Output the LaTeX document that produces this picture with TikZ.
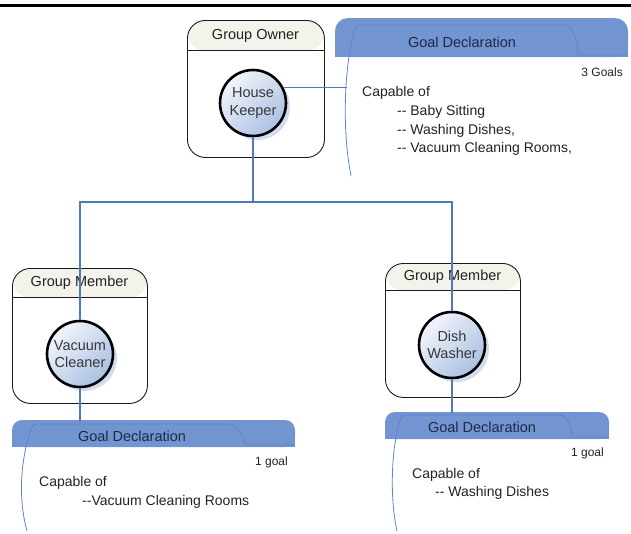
\documentclass[tikz,border=0pt]{standalone}
\usepackage{fontspec}
\setmainfont{Liberation Sans}
\usetikzlibrary{shadows}
\definecolor{bandblue}{HTML}{7294D1}
\definecolor{tabline}{HTML}{5F84C8}
\definecolor{connblue}{HTML}{4F79BE}
\definecolor{hdrfill}{HTML}{F3F3EC}
\definecolor{boxline}{HTML}{1A1A1A}
\definecolor{circtop}{HTML}{F2F5FB}
\definecolor{circbot}{HTML}{ABC0E2}
\definecolor{shadowblue}{HTML}{D3DDEF}
\definecolor{bandtext}{HTML}{1E2B45}
\definecolor{bodytext}{HTML}{222222}
\begin{document}
\begin{tikzpicture}[x=1pt,y=-1pt,
  grpbox/.style={draw=boxline, line width=0.9pt, fill=white, rounded corners=18pt,
    inner sep=0pt, anchor=north west,
    path picture={
      \fill[hdrfill] (path picture bounding box.north west) rectangle ([yshift=-#1pt]path picture bounding box.north east);
      \draw[boxline, line width=0.9pt] ([yshift=-#1pt]path picture bounding box.north west) -- ([yshift=-#1pt]path picture bounding box.north east);
    }},
  hdrtxt/.style={font=\fontsize{14.5}{17}\selectfont, text=bodytext, inner sep=0pt},
  person/.style={circle, draw=black, line width=2.6pt, minimum size=66pt, inner sep=0pt,
    align=center, font=\fontsize{14.5}{17.5}\selectfont, text=black!78,
    top color=circtop, bottom color=circbot, shading angle=45,
    general shadow={fill=shadowblue, shadow xshift=4pt, shadow yshift=-4pt}},
  bandtxt/.style={font=\fontsize{14.5}{17}\selectfont, text=bandtext, inner sep=0pt},
  counttxt/.style={font=\fontsize{12}{14}\selectfont, text=bodytext, inner sep=0pt, anchor=east},
  captxt/.style={font=\fontsize{14}{17}\selectfont, text=bodytext, inner sep=0pt, anchor=west},
  tabstroke/.style={draw=tabline, line width=0.8pt},
  busline/.style={draw=connblue, line width=2.8pt},
  thinconn/.style={draw=connblue, line width=1.4pt}
]
\useasboundingbox (0,0) rectangle (631,533);
% top rule
\draw[line width=3pt] (0,5) -- (631,5);

% group boxes
\node[grpbox=30, minimum width=137pt, minimum height=137pt] (ownerbox) at (187,20) {};
\node[grpbox=29, minimum width=135pt, minimum height=135pt] (leftbox) at (12,268) {};
\node[grpbox=27, minimum width=135pt, minimum height=134pt] (rightbox) at (385,263) {};
\node[hdrtxt] (ownerlbl) at (255.5,36) {Group Owner};
\node[hdrtxt] (leftlbl) at (79.5,283) {Group Member};
\node[hdrtxt] (rightlbl) at (452.5,277) {Group Member};

% goal declaration bands
\fill[bandblue, rounded corners=13pt] (335,18) rectangle (628,57);
\fill[bandblue] (335,40) rectangle (628,57);
\draw[tabstroke] (351,176) .. controls (342,130) and (344,70) .. (354,31) .. controls (355,27) and (357,25) .. (362,25) -- (564,25) .. controls (574,25) and (577,40) .. (578,55) -- (628,55);

\fill[bandblue, rounded corners=10pt] (12,420) rectangle (295,447);
\fill[bandblue] (12,435) rectangle (295,447);
\draw[tabstroke] (27,531) .. controls (17,495) and (22,455) .. (31,429) .. controls (32,426) and (34,424) .. (38,424) -- (228,424) .. controls (238,424) and (243,435) .. (245,445) -- (295,445);

\fill[bandblue, rounded corners=10pt] (385,412) rectangle (609,439);
\fill[bandblue] (385,427) rectangle (609,439);
\draw[tabstroke] (397,531) .. controls (389,495) and (392,445) .. (400,420) .. controls (401,417) and (403,415) .. (407,415) -- (560,415) .. controls (568,415) and (571,427) .. (572,437) -- (609,437);

% band texts
\node[bandtxt] (g1title) at (462,42) {Goal Declaration};
\node[bandtxt] (g2title) at (132,436) {Goal Declaration};
\node[bandtxt] (g3title) at (482,427) {Goal Declaration};
\node[counttxt] (g1count) at (623,72) {3 Goals};
\node[counttxt] (g2count) at (288,462) {1 goal};
\node[counttxt] (g3count) at (604,453) {1 goal};

\node[captxt] (g1cap) at (362,93) {Capable of};
\node[captxt] (g1a) at (397,112) {-{}- Baby Sitting};
\node[captxt] (g1b) at (397,130.5) {-{}- Washing Dishes,};
\node[captxt] (g1c) at (397,149) {-{}- Vacuum Cleaning Rooms,};
\node[captxt] (g2cap) at (39,483) {Capable of};
\node[captxt] (g2a) at (82,502) {-{}-Vacuum Cleaning Rooms};
\node[captxt] (g3cap) at (412,475) {Capable of};
\node[captxt] (g3a) at (435,493) {-{}- Washing Dishes};

% persons
\node[person] (hk) at (253,103) {House\\Keeper};
\node[person] (vc) at (80,354) {Vacuum\\Cleaner};
\node[person] (dw) at (452,345) {Dish\\Washer};

% connector coordinates
\coordinate (g1in) at (347,88);
\coordinate (bus) at (0,202);
\coordinate (g2top) at (0,421);
\coordinate (g3top) at (0,413);

% connectors
\draw[thinconn] (hk.27) -- (hk.27 -| g1in);
\draw[busline] (hk.south) -- (hk.south |- bus);
\draw[busline] (vc.north) -- (vc.north |- bus) -- (dw.north |- bus) -- (dw.north);
\draw[thinconn] (vc.south) -- (vc.south |- g2top);
\draw[thinconn] (dw.south) -- (dw.south |- g3top);
\end{tikzpicture}
\end{document}
